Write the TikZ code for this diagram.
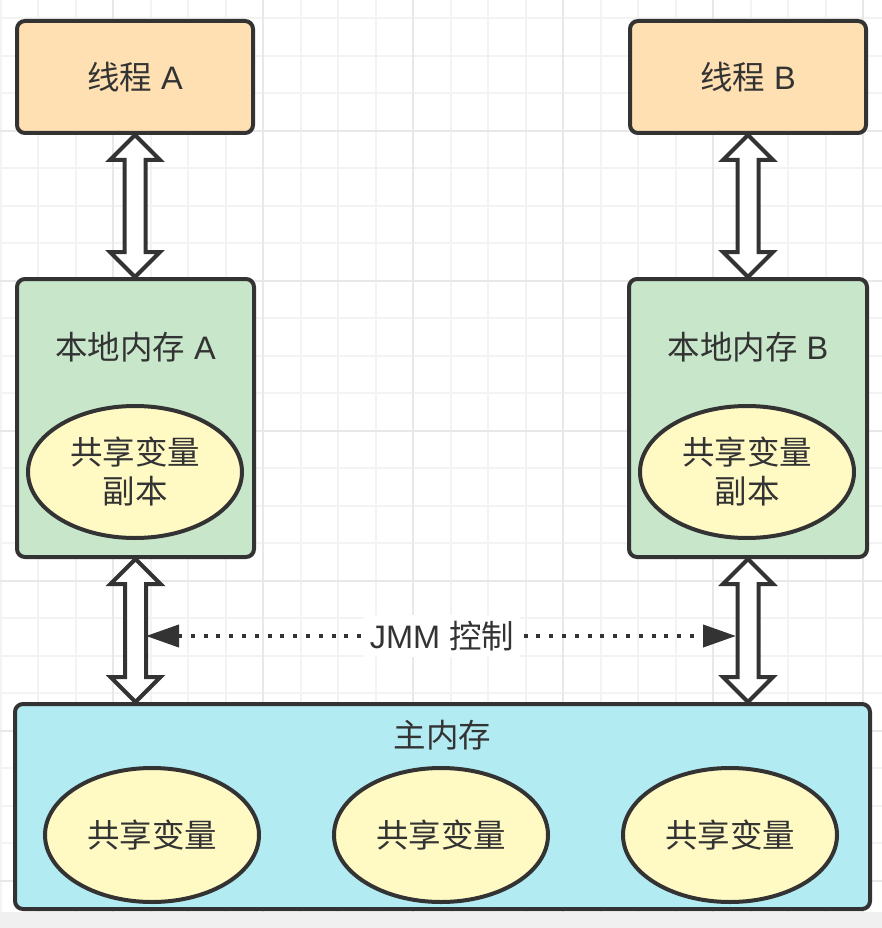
\documentclass[tikz,border=0pt]{standalone}
\usepackage{fontspec}
\setmainfont{Noto Sans CJK SC}
\newfontfamily\lat{Liberation Sans}
\usetikzlibrary{arrows.meta,shapes.geometric,calc}
\definecolor{ink}{HTML}{333333}
\definecolor{peach}{HTML}{FFE0B2}
\definecolor{mint}{HTML}{C8E6C9}
\definecolor{cyanbg}{HTML}{B2EBF2}
\definecolor{cream}{HTML}{FFF9C4}
\definecolor{gridminor}{HTML}{F3F3F3}
\definecolor{gridmajor}{HTML}{E8E8E8}
\definecolor{bandgray}{HTML}{F0F0F0}
\newcommand\dblarr[2]{\draw[fatarrow] let \p1=(#1), \p2=(#2) in
  (\x1,\y1) -- (\x1+25pt,\y1-25pt) -- (\x1+10.5pt,\y1-25pt) -- (\x1+10.5pt,\y2+25pt)
  -- (\x1+25pt,\y2+25pt) -- (\x1,\y2) -- (\x1-25pt,\y2+25pt) -- (\x1-10.5pt,\y2+25pt)
  -- (\x1-10.5pt,\y1-25pt) -- (\x1-25pt,\y1-25pt) -- cycle;}
\begin{document}
\begin{tikzpicture}[x=1pt,y=-1pt,
  every node/.style={text=ink,font=\fontsize{32.5pt}{39pt}\selectfont,inner sep=0pt},
  box/.style={draw=ink,line width=4pt,rounded corners=8pt,rectangle},
  oval/.style={draw=ink,line width=4pt,ellipse,fill=cream,minimum width=214pt,align=center},
  fatarrow/.style={draw=ink,fill=white,line width=4pt,line join=miter},
  dotline/.style={draw=ink,line width=4pt,dash pattern=on 4pt off 8.8pt},
  minor/.style={gridminor,line width=2pt},
  major/.style={gridmajor,line width=2pt}]
\useasboundingbox (0,0) rectangle (882,928);
\fill[white] (0,0) rectangle (882,912);
\fill[bandgray] (0,912) rectangle (882,928);
% grid
\foreach \i in {0,...,23} {
  \draw[minor] ({0.5+37.5*\i},0) -- ({0.5+37.5*\i},912);
  \draw[minor] (0,{18.3+37.5*\i}) -- (882,{18.3+37.5*\i});
}
\foreach \i in {0,...,5} {
  \draw[major] ({113+150*\i},0) -- ({113+150*\i},912);
}
\foreach \i in {0,...,5} {
  \draw[major] (0,{131+150*\i}) -- (882,{131+150*\i});
}
% boxes
\node[box,fill=peach,minimum width=236pt,minimum height=112pt] (ta) at (135,77) {线程{\lat\ A}};
\node[box,fill=peach,minimum width=236pt,minimum height=112pt] (tb) at (748,77) {线程{\lat\ B}};
\node[box,fill=mint,minimum width=237pt,minimum height=278pt] (la) at (135.5,418) {};
\node[box,fill=mint,minimum width=238pt,minimum height=278pt] (lb) at (748,418) {};
\node (lat) at (135.5,347) {本地内存{\lat\ A}};
\node (lbt) at (748,347) {本地内存{\lat\ B}};
\node[oval,minimum height=132pt] (ea) at (135,472) {共享变量\\副本};
\node[oval,minimum height=132pt] (eb) at (747,472) {共享变量\\副本};
\node[box,fill=cyanbg,minimum width=855pt,minimum height=205pt] (mm) at (442.5,806.5) {};
\node (mmt) at (442.5,735) {主内存};
\node[oval,minimum height=134pt] (e1) at (152,835) {共享变量};
\node[oval,minimum height=134pt] (e2) at (441,835) {共享变量};
\node[oval,minimum height=134pt] (e3) at (730,835) {共享变量};
% fat double arrows
\dblarr{ta.south}{la.north}
\dblarr{tb.south}{lb.north}
\dblarr{la.south}{la.south |- mm.north}
\dblarr{lb.south}{lb.south |- mm.north}
% dotted control arrow
\coordinate (dl) at (146,636);
\coordinate (dr) at (736,636);
\draw[dotline,{Triangle[length=33pt,width=22pt]}-{Triangle[length=33pt,width=22pt]}] (dl) -- (dr);
\node[fill=white,inner xsep=6pt,inner ysep=6pt] (jmm) at (442,636) {{\lat JMM\ }控制};
\end{tikzpicture}
\end{document}
